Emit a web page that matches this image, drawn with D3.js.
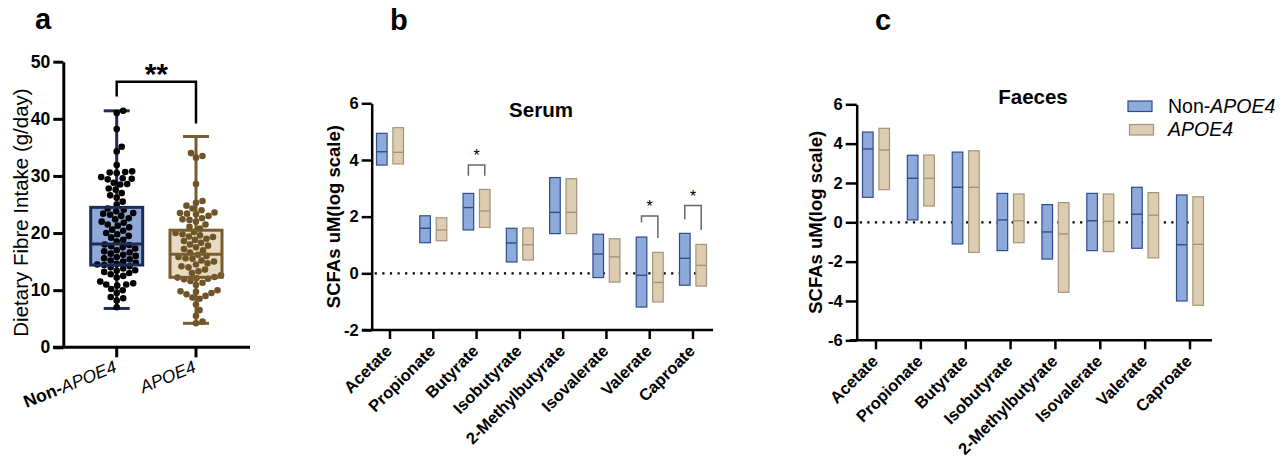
<!DOCTYPE html>
<html>
<head>
<meta charset="utf-8">
<script src="https://cdn.jsdelivr.net/npm/d3@7"></script>
<style>
  body { margin: 0; background: #fff; }
  svg { display: block; font-family: "Liberation Sans", Arial, sans-serif; }
</style>
</head>
<body>
<svg id="chart" width="1282" height="470"></svg>
<script>
// ---- data ----
const fibreGroups = ["Non-APOE4", "APOE4"];
const fibreTicks = [0, 10, 20, 30, 40, 50];
// min, q1, median, q3, max
const fibreBoxNon = [6.8, 14.4, 18.1, 24.5, 41.4];
const fibreBoxApoe = [4.2, 12.25, 16.3, 20.5, 36.9];
const fibreNon = [41.4, 41.0, 38.2, 35.1, 34.3, 31.9, 30.8, 30.7, 30.6, 30.5, 29.8, 29.6, 29.5, 29.4,
  28.8, 28.6, 28.5, 27.8, 27.6, 27.0, 26.6, 26.2, 25.5, 25.0,
  24.3, 24.1, 23.8, 23.5, 23.4, 23.2, 23.0, 22.6, 22.4, 22.0, 21.8, 21.5, 21.3, 21.0, 20.6, 20.4,
  20.0, 19.8, 19.5, 19.2, 18.8, 18.5,
  18.0, 17.9, 17.7, 17.5, 17.3, 17.0, 16.8, 16.6, 16.4, 16.2, 16.0, 15.8, 15.6, 15.4, 15.2, 15.0,
  14.8, 14.6, 14.5, 14.4,
  14.2, 14.0, 13.8, 13.5, 13.4, 13.2, 13.0, 12.8, 12.5, 12.2, 11.5, 11.2, 11.0, 11.0, 10.8, 10.2,
  10.0, 9.5, 8.8, 8.6, 8.2, 7.0];
const fibreApoe = [34.0, 33.5, 33.2, 28.6, 25.6, 25.3, 24.8, 24.3, 24.0, 23.6, 23.5, 23.4, 23.3,
  23.0, 22.6, 22.4, 22.3, 22.0, 21.5, 21.1, 20.8,
  20.2, 20.0, 19.8, 19.6, 19.4, 19.3, 19.0, 18.8, 18.6, 18.3, 18.0, 17.8, 17.5, 17.2, 17.0, 16.6,
  16.2, 16.0, 15.8, 15.6, 15.5, 15.2, 15.0, 14.7, 14.5, 14.2, 14.0, 13.6, 13.3, 13.0, 12.6, 12.3,
  12.2, 12.1, 12.0, 11.9, 11.6, 11.3, 10.9, 10.0, 9.8, 9.7, 9.5, 9.3, 9.0, 8.7, 8.5, 7.5, 6.5,
  5.5, 4.5, 4.2];
// bracket: leg under left end, top, leg under right end
const fibreSig = [43.9, 46.5, 39.2];

const scfaNames = ["Acetate", "Propionate", "Butyrate", "Isobutyrate", "2-Methylbutyrate",
  "Isovalerate", "Valerate", "Caproate"];
const serumTicks = [-2, 0, 2, 4, 6];
const faecesTicks = [-6, -4, -2, 0, 2, 4, 6];
// [min, median, max]
const serumNon = [[3.82, 4.29, 4.94], [1.08, 1.59, 2.03], [1.53, 2.32, 2.82], [0.40, 1.07, 1.59],
  [1.40, 2.15, 3.38], [-0.15, 0.68, 1.38], [-1.19, -0.07, 1.28], [-0.42, 0.53, 1.41]];
const serumApoe = [[3.86, 4.27, 5.14], [1.15, 1.53, 1.96], [1.62, 2.20, 2.96], [0.47, 1.01, 1.60],
  [1.40, 2.15, 3.34], [-0.31, 0.58, 1.22], [-1.01, -0.32, 0.74], [-0.45, 0.28, 1.02]];
const faecesNon = [[1.27, 3.73, 4.59], [0.12, 2.24, 3.41], [-1.10, 1.78, 3.57], [-1.44, 0.12, 1.47],
  [-1.87, -0.49, 0.90], [-1.44, 0.08, 1.47], [-1.32, 0.41, 1.78], [-4.00, -1.14, 1.39]];
const faecesApoe = [[1.66, 3.68, 4.78], [0.83, 2.24, 3.42], [-1.53, 1.78, 3.64], [-1.04, 0.08, 1.44],
  [-3.56, -0.59, 1.00], [-1.49, 0.05, 1.44], [-1.81, 0.36, 1.51], [-4.22, -1.12, 1.30]];
// serum significance brackets: category, left leg end, top, right leg end
const serumSig = [["Butyrate", 3.44, 3.82, 3.44], ["Valerate", 1.79, 2.02, 1.25],
  ["Caproate", 1.91, 2.39, 1.53]];

const blueFill = "#8eaadb", blueLine = "#2f4d8c";
const tanFill = "#ddcdb0", tanLine = "#a4937a";
const plainNum = d => String(d); // hyphen minus like the original

const svg = d3.select("#chart");

// ---- panel a ----
const ya = d3.scaleLinear().domain([0, 50]).range([347.3, 61.7]);
const xa = d3.scalePoint().domain(fibreGroups).range([116.7, 196]);
const ga = svg.append("g");

ga.append("text").attr("x", 43).attr("y", 29).attr("text-anchor", "middle")
  .attr("font-size", 29).attr("font-weight", "bold").text("a");

const axA = ga.append("g").attr("transform", "translate(63.3,0)")
  .call(d3.axisLeft(ya).tickValues(fibreTicks).tickFormat(plainNum)
    .tickSize(10).tickSizeOuter(0).tickPadding(3));
axA.selectAll("path,line").attr("stroke", "#000").attr("stroke-width", 3);
axA.selectAll("text").attr("font-size", 17.5).attr("font-weight", "bold").attr("fill", "#000")
  .attr("font-family", "Liberation Sans, Arial, sans-serif");

ga.append("line").attr("x1", 53).attr("x2", 250).attr("y1", ya(0)).attr("y2", ya(0))
  .attr("stroke", "#000").attr("stroke-width", 3);
ga.selectAll(".xt").data(fibreGroups).join("line")
  .attr("x1", d => xa(d)).attr("x2", d => xa(d))
  .attr("y1", ya(0)).attr("y2", ya(0) + 10)
  .attr("stroke", "#000").attr("stroke-width", 3);

ga.append("text")
  .attr("transform", `translate(28,${(ya(0) + ya(50)) / 2 + 8}) rotate(-90)`)
  .attr("text-anchor", "middle").attr("font-size", 20.5).text("Dietary Fibre Intake (g/day)");

// x labels
const labA = ga.selectAll(".xl").data(fibreGroups).join("text")
  .attr("transform", d => `translate(${xa(d) + 1},${ya(0) + 24}) rotate(-22)`)
  .attr("text-anchor", "end").attr("font-size", 17.5);
labA.each(function (d) {
  const t = d3.select(this);
  if (d.startsWith("Non-")) {
    t.append("tspan").attr("font-weight", "bold").text("Non-");
    t.append("tspan").attr("font-style", "italic").text(d.slice(4));
  } else {
    t.append("tspan").attr("font-style", "italic").text(d);
  }
});

function swarm(vals, y, r) {
  const placed = [];
  return vals.slice().sort((a, b) => a - b).map(v => {
    const py = y(v);
    let off = 0;
    for (let k = 0; k < 400; k++) {
      const c = (k % 2 ? 1 : -1) * Math.ceil(k / 2) * 0.5;
      const hit = placed.some(p => (p.x - c) ** 2 + (p.y - py) ** 2 < (2 * r) ** 2);
      if (!hit) { off = c; break; }
    }
    const p = { x: off, y: py };
    placed.push(p);
    return p;
  });
}

const fibreSets = [
  { g: fibreGroups[0], box: fibreBoxNon, vals: fibreNon, fill: "#8ea8d8", line: "#1d2c55", dot: "#000" },
  { g: fibreGroups[1], box: fibreBoxApoe, vals: fibreApoe, fill: "#e6dac3", line: "#7a5d2e", dot: "#6f5427" }
];
const bw = 52, cw = 26;
fibreSets.forEach(s => {
  const cx = xa(s.g);
  const [mn, q1, md, q3, mx] = s.box;
  const gg = ga.append("g");
  gg.append("rect").attr("x", cx - bw / 2).attr("width", bw)
    .attr("y", ya(q3)).attr("height", ya(q1) - ya(q3)).attr("fill", s.fill);
  gg.append("line").attr("x1", cx).attr("x2", cx).attr("y1", ya(mx)).attr("y2", ya(q3))
    .attr("stroke", s.line).attr("stroke-width", 3);
  gg.append("line").attr("x1", cx).attr("x2", cx).attr("y1", ya(q1)).attr("y2", ya(mn))
    .attr("stroke", s.line).attr("stroke-width", 3);
  [mn, mx].forEach(v => gg.append("line").attr("x1", cx - cw / 2).attr("x2", cx + cw / 2)
    .attr("y1", ya(v)).attr("y2", ya(v)).attr("stroke", s.line).attr("stroke-width", 3));
  gg.selectAll("circle").data(swarm(s.vals, ya, 3.3)).join("circle")
    .attr("cx", d => cx + d.x).attr("cy", d => d.y).attr("r", 3.3).attr("fill", s.dot);
  gg.append("rect").attr("x", cx - bw / 2).attr("width", bw)
    .attr("y", ya(q3)).attr("height", ya(q1) - ya(q3))
    .attr("fill", "none").attr("stroke", s.line).attr("stroke-width", 3);
  gg.append("line").attr("x1", cx - bw / 2).attr("x2", cx + bw / 2)
    .attr("y1", ya(md)).attr("y2", ya(md)).attr("stroke", s.line).attr("stroke-width", 3);
});

const xl = xa(fibreGroups[0]), xr = xa(fibreGroups[1]);
ga.append("path")
  .attr("d", `M${xl},${ya(fibreSig[0])}V${ya(fibreSig[1])}H${xr}V${ya(fibreSig[2])}`)
  .attr("fill", "none").attr("stroke", "#000").attr("stroke-width", 2.5);
ga.append("text").attr("x", (xl + xr) / 2).attr("y", ya(fibreSig[1]) + 2)
  .attr("text-anchor", "middle").attr("font-size", 30).attr("font-weight", "bold").text("**");

// ---- panels b and c ----
function scfaPanel(opt) {
  const g = svg.append("g");
  const y = d3.scaleLinear().domain(opt.domain).range(opt.yRange);
  const x = d3.scalePoint().domain(scfaNames).range(opt.xRange);
  const ax = opt.axisX, bottom = opt.yRange[0];

  g.append("text").attr("x", opt.letter[1]).attr("y", 30).attr("font-size", 29)
    .attr("font-weight", "bold").text(opt.letter[0]);
  g.append("text").attr("x", opt.titleX).attr("y", opt.titleY).attr("text-anchor", "middle")
    .attr("font-size", 20.5).attr("font-weight", "bold").text(opt.title);

  const yAx = g.append("g").attr("transform", `translate(${ax},0)`)
    .call(d3.axisLeft(y).tickValues(opt.ticks).tickFormat(plainNum)
      .tickSize(opt.tick).tickSizeOuter(0).tickPadding(3));
  yAx.selectAll("path,line").attr("stroke", "#000").attr("stroke-width", 2.5);
  yAx.selectAll("text").attr("font-size", 16.5).attr("font-weight", "bold").attr("fill", "#000")
    .attr("font-family", "Liberation Sans, Arial, sans-serif");

  g.append("line").attr("x1", opt.axisLeft).attr("x2", opt.axisRight)
    .attr("y1", bottom).attr("y2", bottom).attr("stroke", "#000").attr("stroke-width", 2.5);
  g.selectAll(".xt").data(scfaNames).join("line")
    .attr("x1", d => x(d)).attr("x2", d => x(d)).attr("y1", bottom).attr("y2", bottom + 9)
    .attr("stroke", "#000").attr("stroke-width", 2.5);
  g.selectAll(".xl").data(scfaNames).join("text")
    .attr("transform", d => `translate(${x(d) + 3},${bottom + 22}) rotate(-45)`)
    .attr("text-anchor", "end").attr("font-size", 16.5).attr("font-weight", "bold").text(d => d);

  g.append("text")
    .attr("transform", `translate(${opt.yLabelX},${(opt.yRange[0] + opt.yRange[1]) / 2}) rotate(-90)`)
    .attr("text-anchor", "middle").attr("font-size", 18.5).attr("font-weight", "bold")
    .text("SCFAs uM(log scale)");

  g.append("line").attr("x1", ax + 3).attr("x2", opt.zeroRight).attr("y1", y(0)).attr("y2", y(0))
    .attr("stroke", "#000").attr("stroke-width", 2.2).attr("stroke-dasharray", "2.2,5.4");

  const w = 10.6, off = 8.2;
  [[opt.non, -off, blueFill, blueLine], [opt.apoe, off, tanFill, tanLine]].forEach(([arr, dx, f, l]) => {
    const gg = g.append("g");
    gg.selectAll("rect").data(arr).join("rect")
      .attr("x", (d, i) => x(scfaNames[i]) + dx - w / 2).attr("width", w)
      .attr("y", d => y(d[2])).attr("height", d => y(d[0]) - y(d[2]))
      .attr("fill", f).attr("stroke", l).attr("stroke-width", 1.2);
    gg.selectAll("line").data(arr).join("line")
      .attr("x1", (d, i) => x(scfaNames[i]) + dx - w / 2).attr("x2", (d, i) => x(scfaNames[i]) + dx + w / 2)
      .attr("y1", d => y(d[1])).attr("y2", d => y(d[1]))
      .attr("stroke", l).attr("stroke-width", 1.4);
  });

  (opt.sig || []).forEach(([name, a, top, b]) => {
    const cx = x(name);
    g.append("path")
      .attr("d", `M${cx - off},${y(a)}V${y(top)}H${cx + off}V${y(b)}`)
      .attr("fill", "none").attr("stroke", "#666").attr("stroke-width", 1.5);
    g.append("text").attr("x", cx).attr("y", y(top) - 4).attr("text-anchor", "middle")
      .attr("font-size", 16).text("*");
  });
  return { g, x, y };
}

scfaPanel({
  letter: ["b", 390], title: "Serum", titleX: 541, titleY: 117,
  domain: [-2, 6], yRange: [330, 103.3], xRange: [390, 693], ticks: serumTicks, tick: 10,
  axisX: 371.7, axisLeft: 362, axisRight: 713, zeroRight: 708, yLabelX: 340,
  non: serumNon, apoe: serumApoe, sig: serumSig
});

scfaPanel({
  letter: ["c", 875], title: "Faeces", titleX: 1033, titleY: 104,
  domain: [-6, 6], yRange: [340.3, 104.3], xRange: [876, 1190], ticks: faecesTicks, tick: 11,
  axisX: 856.7, axisLeft: 850, axisRight: 1212, zeroRight: 1208, yLabelX: 822,
  non: faecesNon, apoe: faecesApoe
});

// legend
const legendItems = [["Non-", "APOE4", blueFill, blueLine], ["", "APOE4", tanFill, tanLine]];
const lg = svg.append("g").attr("transform", "translate(1128,101)");
legendItems.forEach(([pre, it, f, l], i) => {
  lg.append("rect").attr("x", i ? 1.5 : 0).attr("y", i * 23.5).attr("width", 24).attr("height", 10.5)
    .attr("fill", f).attr("stroke", l).attr("stroke-width", 1.2);
  const t = lg.append("text").attr("x", 40).attr("y", i * 23 + 12).attr("font-size", 19.5);
  if (pre) t.append("tspan").text(pre);
  t.append("tspan").attr("font-style", "italic").text(it);
});
</script>
</body>
</html>
